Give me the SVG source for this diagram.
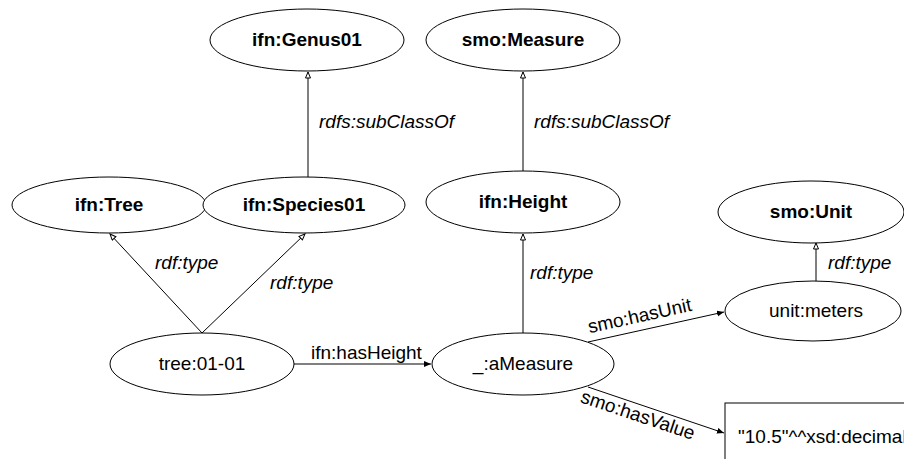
<svg xmlns="http://www.w3.org/2000/svg" width="904" height="459" viewBox="0 0 904 459">
<style>
.n ellipse{fill:#fff;stroke:#000;stroke-width:1}
.n rect{fill:#fff;stroke:#000;stroke-width:1}
.t{font-family:"Liberation Sans",Arial,sans-serif;font-size:19px;fill:#000}
.b{font-weight:bold;text-anchor:middle}
.m{text-anchor:middle}
.i{font-style:italic}
.e{stroke:#000;stroke-width:1;fill:none}
.o{marker-end:url(#open)}
.f{marker-end:url(#fill)}
</style>
<defs>
<marker id="open" markerUnits="userSpaceOnUse" markerWidth="10" markerHeight="10" refX="7" refY="3" orient="auto">
<path d="M1,0.5 L7,3 L1,5.5 Z" fill="#fff" stroke="#000" stroke-width="1"/>
</marker>
<marker id="fill" markerUnits="userSpaceOnUse" markerWidth="10" markerHeight="10" refX="7" refY="3" orient="auto">
<path d="M0,0 L7,3 L0,6 Z" fill="#000"/>
</marker>
</defs>
<g id="connectors">
<line class="e o" x1="202" y1="333" x2="110" y2="234"/>
<line class="e o" x1="202" y1="333" x2="305" y2="234"/>
<line class="e o" x1="308" y1="177" x2="308" y2="72"/>
<line class="e o" x1="523" y1="171" x2="523" y2="72"/>
<line class="e o" x1="523" y1="333" x2="523" y2="234"/>
<line class="e o" x1="816" y1="281" x2="816" y2="243"/>
<line class="e f" x1="293" y1="364" x2="431" y2="364"/>
<line class="e f" x1="588" y1="342" x2="724" y2="312"/>
<line class="e f" x1="588" y1="387" x2="724" y2="433"/>
<text class="t i" x="155" y="269">rdf:type</text>
<text class="t i" x="270" y="289">rdf:type</text>
<text class="t i" x="319" y="128">rdfs:subClassOf</text>
<text class="t i" x="534" y="128">rdfs:subClassOf</text>
<text class="t i" x="530" y="279">rdf:type</text>
<text class="t i" x="828" y="269">rdf:type</text>
<text class="t" x="311" y="359">ifn:hasHeight</text>
<text class="t m" transform="translate(641,322) rotate(-12.4)">smo:hasUnit</text>
<text class="t m" transform="translate(636,421) rotate(18.6)">smo:hasValue</text>
</g>
<g id="genus01" class="n"><ellipse cx="307" cy="40" rx="97" ry="31"/><text class="t b" x="307" y="46">ifn:Genus01</text></g>
<g id="measure" class="n"><ellipse cx="523" cy="40" rx="97" ry="31"/><text class="t b" x="523" y="46">smo:Measure</text></g>
<g id="tree" class="n"><ellipse cx="109" cy="205" rx="97" ry="28"/><text class="t b" x="109" y="211">ifn:Tree</text></g>
<g id="species01" class="n"><ellipse cx="304" cy="205" rx="101" ry="28"/><text class="t b" x="304" y="211">ifn:Species01</text></g>
<g id="height" class="n"><ellipse cx="523" cy="202" rx="97" ry="31"/><text class="t b" x="523" y="208">ifn:Height</text></g>
<g id="unit" class="n"><ellipse cx="811" cy="212" rx="93" ry="31"/><text class="t b" x="811" y="218">smo:Unit</text></g>
<g id="tree0101" class="n"><ellipse cx="202" cy="364" rx="92" ry="31"/><text class="t m" x="202" y="370">tree:01-01</text></g>
<g id="aMeasure" class="n"><ellipse cx="523" cy="364" rx="91" ry="31"/><text class="t m" x="523" y="370">_:aMeasure</text></g>
<g id="meters" class="n"><ellipse cx="813" cy="311" rx="88" ry="30"/><text class="t m" x="816" y="317">unit:meters</text></g>
<g id="value" class="n"><rect x="725" y="403" width="220" height="80"/><text class="t" x="738" y="443">"10.5"^^xsd:decimal</text></g>
</svg>
